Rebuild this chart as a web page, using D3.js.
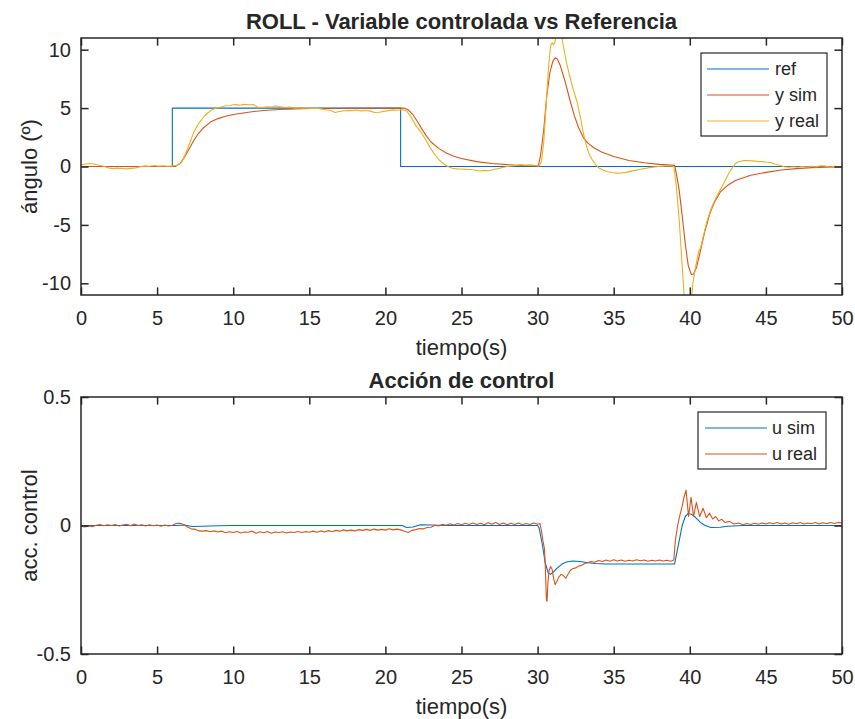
<!DOCTYPE html>
<html>
<head>
<meta charset="utf-8">
<script src="https://cdn.jsdelivr.net/npm/d3@7"></script>
<style>
  html, body { margin: 0; padding: 0; background: #ffffff; }
  svg { display: block; }
  text { font-family: "Liberation Sans", Arial, Helvetica, sans-serif; fill: #262626; }
</style>
</head>
<body>
<svg id="chart" width="855" height="719"></svg>
<script>
// ---------------- DATA ----------------
const xTicks = [0, 5, 10, 15, 20, 25, 30, 35, 40, 45, 50];
const yTicksTop = [-10, -5, 0, 5, 10];
const yTicksBottom = [-0.5, 0, 0.5];

const titleTop = "ROLL - Variable controlada vs Referencia";
const titleBottom = "Acción de control";
const xLabel = "tiempo(s)";
const yLabelTop = "ángulo (º)";
const yLabelBottom = "acc. control";

const legendTop = ["ref", "y sim", "y real"];
const legendBottom = ["u sim", "u real"];

// [time, value]
const refData = [[0,0],[6,0],[6,5],[21,5],[21,0],[50,0]];

const ySimData = [[0,0],[6.2,0],[6.5,0.25],[6.8,0.8],[7.1,1.5],[7.4,2.2],[7.7,2.8],[8.0,3.25],[8.5,3.8],[9,4.1],[9.5,4.3],[10,4.45],[11,4.65],[12,4.8],[13,4.88],[14,4.93],[15,4.96],[17,4.99],[21.2,5.0],[21.5,4.85],[21.8,4.45],[22.1,3.85],[22.4,3.2],[22.7,2.6],[23.0,2.1],[23.5,1.55],[24,1.15],[24.5,0.88],[25,0.68],[26,0.42],[27,0.26],[28,0.16],[29,0.09],[30.05,0.05],[30.2,1.0],[30.4,3.1],[30.6,6.0],[30.8,8.0],[31.0,9.0],[31.15,9.3],[31.3,9.2],[31.5,8.6],[31.8,7.3],[32.1,5.8],[32.4,4.4],[32.7,3.3],[33.0,2.5],[33.3,2.0],[33.7,1.6],[34.2,1.25],[35,0.85],[36,0.52],[37,0.32],[38,0.18],[39.0,0.1],[39.1,-0.5],[39.3,-2.0],[39.5,-4.2],[39.7,-6.6],[39.9,-8.5],[40.1,-9.25],[40.25,-9.2],[40.45,-8.6],[40.7,-7.2],[41.0,-5.5],[41.3,-4.1],[41.6,-3.1],[42.0,-2.2],[42.5,-1.6],[43,-1.2],[44,-0.75],[45,-0.5],[46,-0.3],[47,-0.18],[48,-0.1],[49,-0.06],[50,-0.03]];

const yRealData = [[0,0.15],[0.3,0.22],[0.6,0.26],[0.9,0.2],[1.2,0.1],[1.5,0.02],[1.8,-0.12],[2.1,-0.18],[2.4,-0.14],[2.7,-0.17],[3.0,-0.2],[3.3,-0.16],[3.6,-0.12],[3.9,-0.02],[4.2,0.05],[4.5,0.02],[4.8,0.08],[5.1,0.03],[5.4,0.06],[5.7,0.02],[6.0,0.05],[6.3,0.1],[6.6,0.35],[6.8,0.9],[7.0,1.5],[7.2,2.2],[7.4,2.9],[7.6,3.4],[7.85,3.9],[8.1,4.3],[8.35,4.6],[8.6,4.85],[8.9,5.0],[9.2,5.1],[9.5,5.2],[9.8,5.22],[10.1,5.3],[10.4,5.25],[10.7,5.32],[11.0,5.28],[11.3,5.3],[11.6,5.1],[11.9,5.05],[12.2,5.12],[12.5,5.08],[12.8,5.18],[13.1,5.12],[13.4,5.05],[13.7,5.1],[14.0,5.0],[14.3,5.04],[14.6,4.98],[14.9,5.0],[15.2,4.96],[15.5,4.98],[15.8,4.92],[16.1,4.86],[16.4,4.8],[16.7,4.62],[16.9,4.68],[17.2,4.75],[17.5,4.8],[17.8,4.78],[18.1,4.83],[18.4,4.76],[18.7,4.8],[19.0,4.74],[19.3,4.62],[19.6,4.65],[19.9,4.72],[20.2,4.78],[20.5,4.85],[20.8,4.82],[21.1,4.88],[21.4,4.75],[21.7,4.2],[22.0,3.5],[22.3,3.0],[22.6,2.4],[22.9,1.7],[23.2,1.1],[23.5,0.6],[23.8,0.25],[24.1,0.0],[24.4,-0.15],[24.7,-0.2],[25.0,-0.22],[25.3,-0.25],[25.6,-0.26],[25.9,-0.3],[26.2,-0.38],[26.5,-0.33],[26.8,-0.36],[27.1,-0.25],[27.4,-0.18],[27.7,-0.08],[28.0,0.0],[28.3,0.05],[28.6,0.1],[28.9,0.16],[29.2,0.12],[29.5,0.14],[29.8,0.08],[30.1,0.05],[30.25,0.4],[30.4,2.0],[30.55,5.0],[30.7,8.2],[30.85,10.3],[30.95,10.6],[31.05,10.4],[31.15,10.7],[31.3,11.5],[31.45,11.8],[31.6,11.0],[31.75,9.9],[31.9,8.9],[32.1,7.8],[32.3,6.8],[32.6,5.5],[32.8,4.3],[33.0,2.9],[33.2,1.8],[33.4,1.0],[33.6,0.55],[33.8,0.2],[34.0,-0.1],[34.3,-0.3],[34.6,-0.45],[34.9,-0.52],[35.2,-0.57],[35.5,-0.55],[35.8,-0.5],[36.1,-0.42],[36.4,-0.33],[36.7,-0.25],[37.0,-0.18],[37.3,-0.1],[37.6,-0.05],[37.9,0.0],[38.2,0.03],[38.5,0.06],[38.8,0.04],[38.95,0.0],[39.1,-1.5],[39.3,-4.5],[39.5,-8.5],[39.65,-11.5],[39.8,-12],[40.0,-11.8],[40.05,-11.0],[40.1,-11.6],[40.2,-10.0],[40.35,-8.8],[40.5,-7.8],[40.6,-7.2],[40.7,-7.0],[40.9,-5.9],[41.1,-4.8],[41.3,-4.0],[41.5,-3.3],[41.75,-2.6],[42.0,-2.0],[42.2,-1.5],[42.4,-1.0],[42.6,-0.5],[42.8,-0.1],[43.0,0.25],[43.2,0.4],[43.5,0.5],[43.8,0.52],[44.1,0.48],[44.4,0.44],[44.7,0.42],[45.0,0.38],[45.3,0.35],[45.6,0.2],[45.9,0.1],[46.2,-0.02],[46.5,-0.06],[46.8,-0.02],[47.1,-0.07],[47.4,0.0],[47.7,-0.04],[48.0,0.02],[48.3,-0.03],[48.6,0.06],[48.9,0.03],[49.2,-0.04],[49.5,0.01],[49.8,-0.03],[50,0.02]];

const uSimData = [[0,0],[6.3,0],[6.8,0.002],[7.3,-0.004],[8,-0.003],[9,-0.001],[10,0],[21.1,0],[21.4,-0.008],[21.8,-0.006],[22.3,0.003],[23,0.002],[24,0],[30.0,0],[30.1,-0.01],[30.3,-0.07],[30.5,-0.145],[30.7,-0.185],[30.85,-0.19],[31.05,-0.18],[31.3,-0.165],[31.6,-0.15],[31.9,-0.142],[32.3,-0.138],[32.8,-0.14],[33.3,-0.145],[33.8,-0.148],[34.5,-0.15],[39.0,-0.15],[39.1,-0.12],[39.3,-0.06],[39.5,0.0],[39.7,0.035],[39.9,0.047],[40.1,0.044],[40.4,0.03],[40.7,0.012],[41.0,0.0],[41.4,-0.008],[42.0,-0.007],[42.5,-0.003],[43.5,0],[50,0]];

const uRealData = [[0,-0.003],[0.25,-0.006],[0.5,-0.002],[0.75,-0.005],[1.0,0.001],[1.25,0.004],[1.5,-0.001],[1.75,0.003],[2.0,0.0],[2.25,0.004],[2.5,-0.002],[2.75,0.002],[3.0,0.005],[3.25,-0.001],[3.5,0.006],[3.75,0.0],[4.0,0.003],[4.25,-0.002],[4.5,0.003],[4.75,-0.001],[5.0,0.002],[5.25,-0.003],[5.5,0.002],[5.75,-0.002],[6.0,0.001],[6.25,0.008],[6.5,0.009],[6.75,0.004],[7.0,-0.006],[7.25,-0.013],[7.5,-0.015],[7.75,-0.021],[8.0,-0.022],[8.25,-0.020],[8.5,-0.024],[8.75,-0.021],[9.0,-0.025],[9.25,-0.022],[9.5,-0.028],[9.75,-0.024],[10.0,-0.027],[10.25,-0.023],[10.5,-0.029],[10.75,-0.025],[11.0,-0.026],[11.25,-0.022],[11.5,-0.030],[11.75,-0.024],[12.0,-0.028],[12.25,-0.023],[12.5,-0.030],[12.75,-0.025],[13.0,-0.027],[13.25,-0.024],[13.5,-0.029],[13.75,-0.025],[14.0,-0.027],[14.25,-0.023],[14.5,-0.027],[14.75,-0.024],[15.0,-0.026],[15.25,-0.022],[15.5,-0.026],[15.75,-0.021],[16.0,-0.025],[16.25,-0.020],[16.5,-0.024],[16.75,-0.019],[17.0,-0.022],[17.25,-0.017],[17.5,-0.021],[17.75,-0.018],[18.0,-0.021],[18.25,-0.016],[18.5,-0.019],[18.75,-0.015],[19.0,-0.019],[19.25,-0.014],[19.5,-0.018],[19.75,-0.015],[20.0,-0.018],[20.25,-0.013],[20.5,-0.017],[20.75,-0.014],[21.0,-0.017],[21.25,-0.022],[21.5,-0.027],[21.75,-0.019],[22.0,-0.016],[22.25,-0.012],[22.5,-0.013],[22.75,-0.008],[23.0,-0.007],[23.25,0.001],[23.5,-0.002],[23.75,0.005],[24.0,0.001],[24.25,0.007],[24.5,0.002],[24.75,0.008],[25.0,0.003],[25.25,0.009],[25.5,0.004],[25.75,0.010],[26.0,0.004],[26.25,0.009],[26.5,0.003],[26.75,0.011],[27.0,0.005],[27.25,0.012],[27.5,0.004],[27.75,0.010],[28.0,0.003],[28.25,0.009],[28.5,0.004],[28.75,0.010],[29.0,0.003],[29.25,0.008],[29.5,0.004],[29.75,0.010],[30.0,0.005],[30.15,0.008],[30.25,-0.02],[30.35,-0.06],[30.45,-0.09],[30.5,-0.15],[30.58,-0.29],[30.62,-0.295],[30.68,-0.22],[30.75,-0.175],[30.85,-0.16],[30.95,-0.17],[31.05,-0.205],[31.15,-0.23],[31.25,-0.22],[31.4,-0.2],[31.55,-0.19],[31.7,-0.195],[31.85,-0.205],[32.0,-0.19],[32.15,-0.175],[32.3,-0.168],[32.5,-0.165],[32.7,-0.158],[32.9,-0.155],[33.1,-0.148],[33.3,-0.145],[33.5,-0.14],[33.75,-0.143],[34.0,-0.136],[34.25,-0.14],[34.5,-0.134],[34.75,-0.139],[35.0,-0.133],[35.25,-0.138],[35.5,-0.134],[35.75,-0.139],[36.0,-0.135],[36.25,-0.138],[36.5,-0.133],[36.75,-0.137],[37.0,-0.134],[37.25,-0.139],[37.5,-0.135],[37.75,-0.138],[38.0,-0.134],[38.25,-0.138],[38.5,-0.135],[38.75,-0.139],[38.95,-0.134],[39.05,-0.06],[39.2,0.0],[39.35,0.04],[39.5,0.075],[39.62,0.11],[39.75,0.138],[39.92,0.035],[40.08,0.11],[40.25,0.035],[40.43,0.09],[40.65,0.035],[40.87,0.067],[41.09,0.03],[41.3,0.048],[41.5,0.025],[41.7,0.035],[41.9,0.018],[42.1,0.024],[42.3,0.012],[42.6,0.016],[42.9,0.006],[43.2,0.01],[43.5,0.003],[43.75,0.008],[44.0,0.004],[44.25,0.009],[44.5,0.005],[44.75,0.01],[45.0,0.006],[45.25,0.011],[45.5,0.007],[45.75,0.012],[46.0,0.006],[46.25,0.01],[46.5,0.005],[46.75,0.011],[47.0,0.007],[47.25,0.012],[47.5,0.006],[47.75,0.01],[48.0,0.007],[48.25,0.012],[48.5,0.006],[48.75,0.011],[49.0,0.007],[49.25,0.012],[49.5,0.008],[49.75,0.012],[50,0.01]];

// ---------------- DRAWING ----------------
const COLORS = { blue: "#0072BD", orange: "#D95319", yellow: "#EDB120", axis: "#262626" };
const svg = d3.select("#chart");
const plotL = 81, plotR = 842;
const hyphen = s => String(s).replace("\u2212", "-");

function drawAxes(cfg) {
  const { top, bottom, yDomain, yTicks, title, yLabel, series, legend, id, yFmt } = cfg;
  const x = d3.scaleLinear().domain([0, 50]).range([plotL, plotR]);
  const y = d3.scaleLinear().domain(yDomain).range([bottom, top]);
  const g = svg.append("g");

  g.append("rect").attr("x", plotL).attr("y", top)
    .attr("width", plotR - plotL).attr("height", bottom - top).attr("fill", "#fff");

  svg.append("defs").append("clipPath").attr("id", id)
    .append("rect").attr("x", plotL).attr("y", top)
    .attr("width", plotR - plotL).attr("height", bottom - top);

  const line = d3.line().x(d => x(d[0])).y(d => y(d[1]));
  const dg = g.append("g").attr("clip-path", `url(#${id})`);
  series.forEach(s => {
    dg.append("path").datum(s.data).attr("d", line)
      .attr("fill", "none").attr("stroke", s.color).attr("stroke-width", 1.1)
      .attr("stroke-linejoin", "round");
  });

  const tl = 7.6;
  const fontSize = 20;
  const axB = d3.axisBottom(x).tickValues(xTicks).tickSize(-tl).tickPadding(22).tickFormat(d3.format("d"));
  const gb = g.append("g").attr("transform", `translate(0,${bottom})`).call(axB);
  const axT = d3.axisTop(x).tickValues(xTicks).tickSize(-tl).tickFormat("");
  const gt = g.append("g").attr("transform", `translate(0,${top})`).call(axT);
  const axL = d3.axisLeft(y).tickValues(yTicks).tickSize(-tl).tickPadding(10).tickFormat(d => hyphen(yFmt(d)));
  const gl = g.append("g").attr("transform", `translate(${plotL},0)`).call(axL);
  const axR = d3.axisRight(y).tickValues(yTicks).tickSize(-tl).tickFormat("");
  const gr = g.append("g").attr("transform", `translate(${plotR},0)`).call(axR);

  [gb, gt, gl, gr].forEach(a => {
    a.select(".domain").remove();
    a.selectAll(".tick line").attr("stroke", COLORS.axis).attr("stroke-width", 1.5);
    a.selectAll(".tick text").attr("fill", COLORS.axis)
      .style("font-size", fontSize + "px")
      .style("font-family", '"Liberation Sans", Arial, sans-serif');
  });
  gb.selectAll(".tick text").attr("dy", "0.71em").attr("y", 16);

  g.append("rect").attr("x", plotL).attr("y", top)
    .attr("width", plotR - plotL).attr("height", bottom - top)
    .attr("fill", "none").attr("stroke", COLORS.axis).attr("stroke-width", 1.5);

  g.append("text").attr("x", (plotL + plotR) / 2).attr("y", top - 9)
    .attr("text-anchor", "middle").style("font-size", "22px").style("font-weight", "bold")
    .attr("fill", "#000").text(title);
  g.append("text").attr("x", (plotL + plotR) / 2).attr("y", bottom + 60)
    .attr("text-anchor", "middle").style("font-size", "22px").text(xLabel);
  g.append("text").attr("transform", `translate(37,${(top + bottom) / 2}) rotate(-90)`)
    .attr("text-anchor", "middle").style("font-size", "22px").text(yLabel);

  const L = legend;
  const lg = g.append("g");
  lg.append("rect").attr("x", L.x0).attr("y", L.y0).attr("width", L.x1 - L.x0).attr("height", L.y1 - L.y0)
    .attr("fill", "#fff").attr("stroke", COLORS.axis).attr("stroke-width", 1.2);
  L.items.forEach((it, i) => {
    const yy = L.rows[i];
    lg.append("line").attr("x1", L.lx0).attr("x2", L.lx1).attr("y1", yy).attr("y2", yy)
      .attr("stroke", it.color).attr("stroke-width", 1.2);
    lg.append("text").attr("x", L.tx).attr("y", yy).attr("dy", "0.35em")
      .style("font-size", "18px").attr("fill", "#000").text(it.label);
  });
}

drawAxes({
  id: "clipTop", top: 38, bottom: 295, yDomain: [-11, 11], yTicks: yTicksTop,
  yFmt: d3.format("d"),
  title: titleTop, yLabel: yLabelTop,
  series: [
    { data: refData, color: COLORS.blue },
    { data: ySimData, color: COLORS.orange },
    { data: yRealData, color: COLORS.yellow }
  ],
  legend: {
    x0: 701, x1: 827, y0: 53, y1: 136, lx0: 707, lx1: 769, tx: 775, rows: [69, 95, 121],
    items: [
      { label: legendTop[0], color: COLORS.blue },
      { label: legendTop[1], color: COLORS.orange },
      { label: legendTop[2], color: COLORS.yellow }
    ]
  }
});

drawAxes({
  id: "clipBottom", top: 397, bottom: 654, yDomain: [-0.5, 0.5], yTicks: yTicksBottom,
  yFmt: d => (d === 0 ? "0" : d3.format(".1f")(d)),
  title: titleBottom, yLabel: yLabelBottom,
  series: [
    { data: uSimData, color: COLORS.blue },
    { data: uRealData, color: COLORS.orange }
  ],
  legend: {
    x0: 698, x1: 826, y0: 412, y1: 469, lx0: 705, lx1: 767, tx: 772, rows: [428, 454],
    items: [
      { label: legendBottom[0], color: COLORS.blue },
      { label: legendBottom[1], color: COLORS.orange }
    ]
  }
});
</script>
</body>
</html>
